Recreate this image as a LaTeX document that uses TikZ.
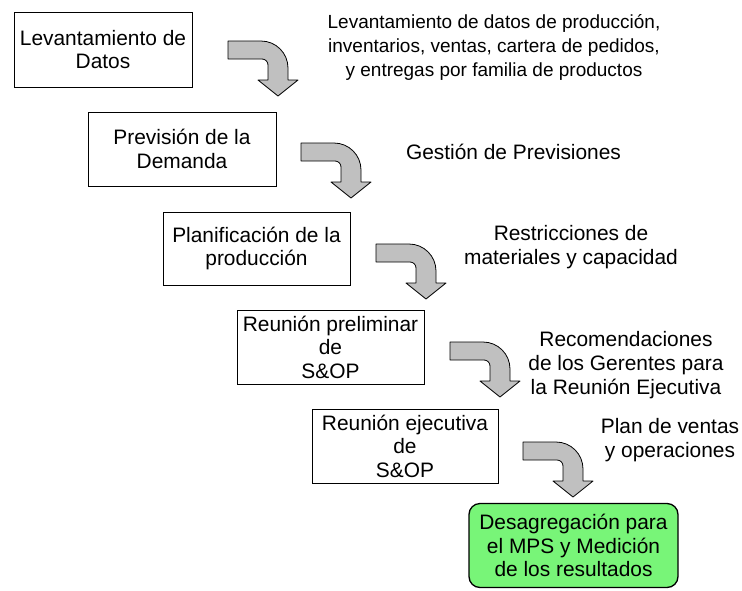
\documentclass[tikz,border=0pt]{standalone}
\usepackage{fontspec}
\setmainfont{Liberation Sans}
\definecolor{arrowgray}{RGB}{192,192,192}
\definecolor{boxgreen}{RGB}{120,245,120}
\tikzset{
  box/.style={draw=black, line width=0.8pt, fill=white, inner sep=0pt, align=center,
    font=\fontsize{20.9}{23.6}\selectfont},
  greenbox/.style={box, fill=boxgreen, rounded corners=11pt, line width=1.3pt},
  lbl/.style={inner sep=0pt, align=center, font=\fontsize{20.9}{23.6}\selectfont},
  arrowfill/.style={draw=black, line width=0.8pt, fill=arrowgray, line join=round},
  bentarrow/.pic={
    \draw[arrowfill] (0,0) -- (33,0) arc[start angle=-90,end angle=0,radius=27]
      -- (60,39) -- (70,39) -- (50,55) -- (30,39) -- (40,39) -- (40,24)
      arc[start angle=0,end angle=-90,radius=6] -- (0,18) -- cycle;
  }
}
\begin{document}
\begin{tikzpicture}[x=1pt,y=-1pt]
\useasboundingbox (0,0) rectangle (742,590);
% boxes
\node[box, minimum width=178pt, minimum height=75pt] (b1) at (103,49.5) {Levantamiento de\\Datos};
\node[box, minimum width=188pt, minimum height=74pt] (b2) at (182,149) {Previsión de la\\Demanda};
\node[box, minimum width=187pt, minimum height=73pt] (b3) at (256.5,248.5) {Planificación de la\\producción};
\node[box, minimum width=187pt, minimum height=74pt] (b4) at (330.5,347) {Reunión preliminar\\de\\S\&OP};
\node[box, minimum width=186pt, minimum height=74pt] (b5) at (405,446) {Reunión ejecutiva\\de\\S\&OP};
\node[greenbox, minimum width=209pt, minimum height=84pt] (b6) at (573.5,545.5) {Desagregación para\\el MPS y Medición\\de los resultados};
% arrows
\pic at (228,41) {bentarrow};
\pic at (301,143) {bentarrow};
\pic at (376,244) {bentarrow};
\pic at (450,342) {bentarrow};
\pic at (523,442) {bentarrow};
% labels
\node[lbl, font=\fontsize{19}{24}\selectfont] (l1) at (494,47) {Levantamiento de datos de producción,\\inventarios, ventas, cartera de pedidos,\\y entregas por familia de productos};
\node[lbl] (l2) at (513.5,152) {Gestión de Previsiones};
\node[lbl] (l3) at (571,247) {Restricciones de\\materiales y capacidad};
\node[lbl] (l4) at (626,365) {Recomendaciones\\de los Gerentes para\\la Reunión Ejecutiva};
\node[lbl] (l5) at (670,440) {Plan de ventas\\y operaciones};
\end{tikzpicture}
\end{document}
